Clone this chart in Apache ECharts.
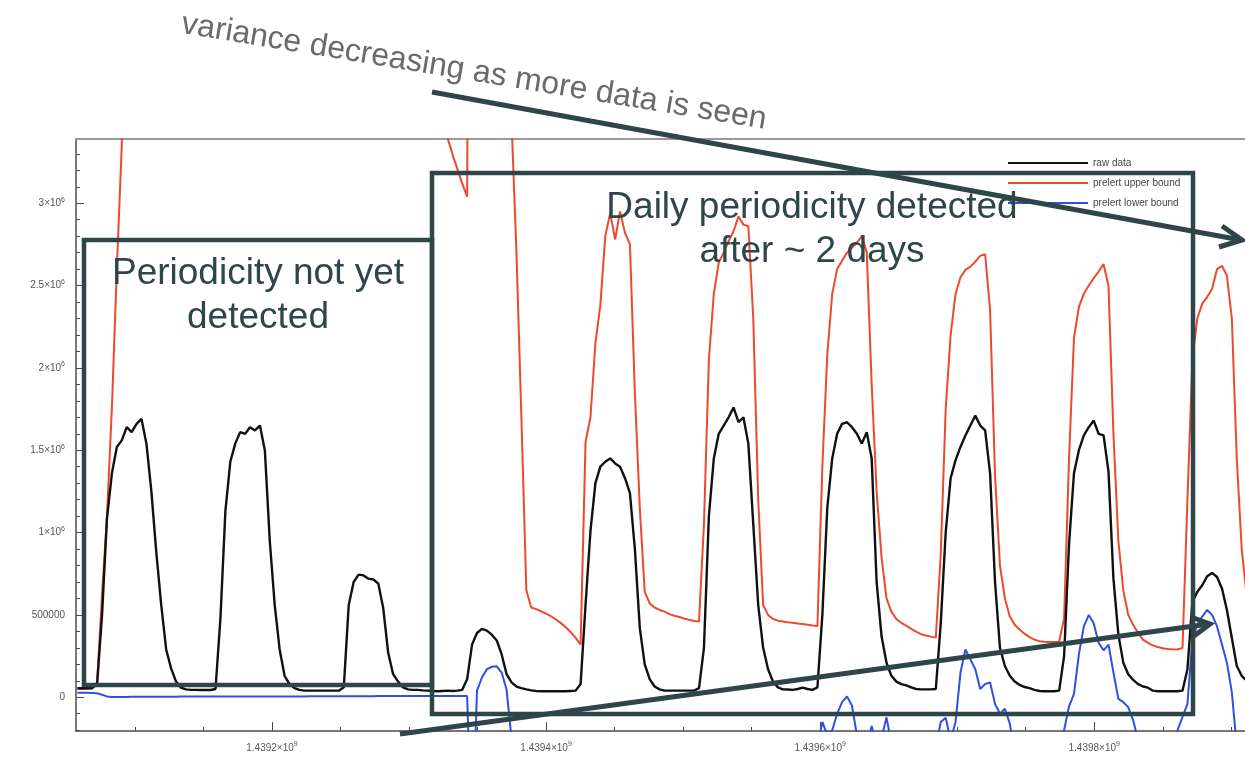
<!DOCTYPE html>
<html>
<head>
<meta charset="utf-8">
<script src="https://cdn.jsdelivr.net/npm/echarts@6/dist/echarts.min.js"></script>
<style>
  html, body { margin: 0; padding: 0; background: #ffffff; }
  #chart { width: 1245px; height: 762px; }
</style>
</head>
<body>
<div id="chart"></div>
<script>
// Hourly samples (unix seconds) starting at T_START
const T_START = 1439058000;
const T_STEP = 3600;

// Raw traffic, in thousands
const rawK = [
  55,55,55,55,80,500,1085,1360,1520,1560,1640,1610,1660,1690,1540,1250,880,560,290,175,95,58,48,45,
  45,44,44,44,50,480,1130,1430,1540,1610,1600,1640,1620,1650,1500,950,560,290,130,80,56,45,40,40,
  40,40,40,40,40,40,60,560,700,745,740,720,715,690,540,270,140,95,60,48,45,45,42,40,
  38,36,38,40,38,40,45,110,320,390,415,405,380,345,260,140,90,65,55,48,42,38,36,36,
  36,36,36,36,38,40,80,560,1010,1300,1400,1430,1450,1420,1400,1330,1240,900,420,200,110,65,48,40,
  40,40,40,40,40,40,55,300,1100,1450,1600,1650,1700,1760,1670,1700,1540,1050,560,300,170,95,60,48,
  47,45,50,58,50,45,60,500,1150,1450,1600,1660,1670,1640,1600,1540,1610,1450,700,370,210,130,95,80,
  72,60,50,48,48,48,50,450,1000,1330,1440,1520,1590,1650,1710,1650,1620,1360,700,300,190,130,95,75,
  62,55,45,38,36,36,36,40,250,930,1360,1500,1590,1640,1680,1600,1590,1370,720,380,210,140,105,80,
  65,58,40,36,36,36,36,36,40,170,580,640,680,735,755,730,660,530,360,190,130,100
];

// Model upper bound, in thousands (early values run far above the plotted range)
const upperK = [
  50,50,52,55,90,620,1100,1760,2600,3350,
  8200,8600,8900,9100,9200,9100,8900,8600,8300,8000,
  7800,7600,7500,7400,7300,7200,7200,7100,7100,7000,
  7000,6900,6900,6800,6800,6700,6700,6600,6600,6500,
  6500,6400,6400,6300,6300,6200,6200,6100,6100,6000,
  6000,5900,5900,5800,5800,5700,5700,5600,5600,5500,
  5500,5400,5400,5300,5300,5200,5200,5100,5100,5000,
  5000,4900,4900,4800,4800,
  3400,3300,3210,3120,3040,
  9000,9000,8800,8600,8400,8200,8000,7800,
  3500,2700,1700,650,
  545,535,522,508,492,472,450,425,395,360,320,
  1550,1700,2150,2380,2800,2940,2780,2950,2820,2750,1850,1150,640,570,545,530,520,
  505,495,487,478,470,463,460,1050,2050,2450,2640,2700,2770,2830,2920,2870,2860,
  2300,1200,560,500,475,465,460,455,452,448,445,440,435,432,
  1400,2080,2450,2600,2650,2700,2730,2760,2800,2700,
  1900,1250,850,600,520,475,452,435,415,398,
  383,375,368,362,870,1750,2200,2450,2550,2595,
  2615,2645,2680,2690,2350,1350,800,600,490,440,
  410,385,365,350,340,337,336,336,337,480,
  1450,2180,2370,2450,2500,2545,2585,2630,2500,1600,
  950,650,500,440,390,350,330,315,305,298,
  293,291,290,300,1200,2050,2300,2390,2430,2480,
  2600,2620,2560,2300,1450,900,620
];

// Model lower bound, in thousands (negative stretches fall below the plotted range)
const lowerK = [
  28,28,27,26,24,15,5,
  2,2,2,2,3,3,3,3,3,3,
  3,3,3,3,4,4,4,4,4,4,
  4,4,4,4,4,4,5,5,5,5,
  5,5,5,5,5,5,5,5,5,5,
  6,6,6,6,6,6,6,6,6,6,
  6,6,6,6,7,7,7,7,7,7,
  7,7,7,7,8,8,8,8,8,8,
  8,8,8,
  -900,
  40,120,170,185,188,150,45,
  -250,
  -800,-900,-950,-1000,-1000,-980,-950,-900,-850,-800,
  -700,-650,-700,-800,-900,-1000,-1050,-1100,-1100,-1050,
  -1000,-950,-900,-850,-800,-750,-700,-650,-600,-650,
  -700,-800,-900,-950,-1000,-1000,-950,-900,-850,-800,
  -750,-700,-650,-600,-550,-550,-600,-650,-700,-750,
  -800,-800,-750,-700,-650,-600,-550,-500,-450,-400,
  -350,
  -300,-150,-230,-200,-100,-30,5,-50,-230,-280,
  -300,-175,-300,-250,-122,-280,-420,-500,-550,-520,
  -480,-460,-450,-450,-300,-150,-125,-260,-150,150,
  290,230,170,50,80,90,-40,-100,-70,-160,
  -350,
  -500,-600,-650,-700,-700,-650,-600,-500,-350,
  -200,-55,20,260,430,500,450,330,285,320,150,-10,-30,-60,-140,-260,
  -400,-500,-550,-550,-500,-450,-300,-200,-120,-40,350,440,490,530,500,430,320,210,30,-300,-600,-700
];

const seriesNames = ['raw data', 'prelert upper bound', 'prelert lower bound'];

// Axis extents and tick positions
const X_MIN = 1439057000, X_MAX = 1439910000;
const Y_MIN = -205000, Y_MAX = 3390000;
const xLabelTicks = [1439200000, 1439400000, 1439600000, 1439800000];
const yLabelTicks = [0, 500000, 1000000, 1500000, 2000000, 2500000, 3000000];
const xMinorStep = 50000, yMinorStep = 100000;

function stepsBetween(lo, hi, step) {
  const out = [];
  for (let v = Math.ceil(lo / step) * step; v <= hi; v += step) out.push(v);
  return out;
}
const xMinorTicks = stepsBetween(X_MIN, X_MAX, xMinorStep);
const yMinorTicks = stepsBetween(Y_MIN, Y_MAX, yMinorStep);

function toPairs(arrK) {
  return arrK.map((v, i) => [T_START + i * T_STEP, v * 1000]);
}

const ink = '#2f4649';
const axisInk = '#4a4a4a';
const labelInk = '#555555';
const sans = '"Liberation Sans", Arial, sans-serif';
const annotFont = '37px ' + sans;

const supRich = {
  m: { fontSize: 10, color: labelInk, fontFamily: sans },
  e: { fontSize: 7, color: labelInk, fontFamily: sans, padding: [0, 0, 7, 0] }
};

function yFmt(v) {
  if (v === 0) return '{m|0}';
  if (v === 500000) return '{m|500000}';
  const mant = +(v / 1e6).toFixed(1);
  return '{m|' + mant + '×10}{e|6}';
}
function xFmt(v) {
  return '{m|' + (v / 1e9).toFixed(4) + '×10}{e|9}';
}

const chart = echarts.init(document.getElementById('chart'), null, { renderer: 'canvas' });

const baseX = { type: 'value', min: X_MIN, max: X_MAX, splitLine: { show: false } };
const baseY = { type: 'value', min: Y_MIN, max: Y_MAX, splitLine: { show: false } };

chart.setOption({
  animation: false,
  backgroundColor: '#ffffff',
  grid: { left: 76, top: 139, right: 0, bottom: 31, containLabel: false },
  legend: {
    data: seriesNames,
    orient: 'vertical',
    left: 1003,
    top: 152,
    padding: 5,
    icon: 'rect',
    itemWidth: 80,
    itemHeight: 2,
    itemGap: 8,
    itemStyle: { borderWidth: 0 },
    textStyle: { fontSize: 10, color: '#444', lineHeight: 12, fontFamily: sans }
  },
  xAxis: [
    Object.assign({}, baseX, {
      position: 'bottom',
      axisLine: { show: true, onZero: false, lineStyle: { color: axisInk, width: 1.5 } },
      axisTick: { show: true, inside: true, length: 9, customValues: xLabelTicks, lineStyle: { color: axisInk } },
      axisLabel: { show: true, customValues: xLabelTicks, margin: 10, formatter: xFmt, rich: supRich }
    }),
    Object.assign({}, baseX, {
      position: 'bottom',
      axisLine: { show: false, onZero: false },
      axisTick: { show: true, inside: true, length: 4, customValues: xMinorTicks, lineStyle: { color: axisInk } },
      axisLabel: { show: false }
    }),
    Object.assign({}, baseX, {
      position: 'top',
      axisLine: { show: true, onZero: false, lineStyle: { color: '#9a9a9a', width: 2 } },
      axisTick: { show: false },
      axisLabel: { show: false }
    })
  ],
  yAxis: [
    Object.assign({}, baseY, {
      position: 'left',
      axisLine: { show: true, onZero: false, lineStyle: { color: axisInk, width: 1.5 } },
      axisTick: { show: true, inside: true, length: 8, customValues: yLabelTicks, lineStyle: { color: axisInk } },
      axisLabel: { show: true, customValues: yLabelTicks, margin: 11, formatter: yFmt, rich: supRich }
    }),
    Object.assign({}, baseY, {
      position: 'left',
      axisLine: { show: false, onZero: false },
      axisTick: { show: true, inside: true, length: 4, customValues: yMinorTicks, lineStyle: { color: axisInk } },
      axisLabel: { show: false }
    })
  ],
  series: [
    {
      name: seriesNames[1], type: 'line', xAxisIndex: 0, yAxisIndex: 0,
      data: toPairs(upperK), showSymbol: false, clip: true, z: 2,
      color: '#ec4a2c', lineStyle: { color: '#ec4a2c', width: 2 }
    },
    {
      name: seriesNames[2], type: 'line', xAxisIndex: 0, yAxisIndex: 0,
      data: toPairs(lowerK), showSymbol: false, clip: true, z: 3,
      color: '#2f4fe6', lineStyle: { color: '#2f4fe6', width: 2 }
    },
    {
      name: seriesNames[0], type: 'line', xAxisIndex: 0, yAxisIndex: 0,
      data: toPairs(rawK), showSymbol: false, clip: true, z: 4,
      color: '#111111', lineStyle: { color: '#111111', width: 2.4 }
    }
  ],
  graphic: {
    elements: [
      // annotation frames
      { type: 'rect', z: 100, shape: { x: 84, y: 240, width: 348, height: 445 },
        style: { fill: 'none', stroke: ink, lineWidth: 4.5 } },
      { type: 'rect', z: 100, shape: { x: 432, y: 173, width: 761, height: 541 },
        style: { fill: 'none', stroke: ink, lineWidth: 4.5 } },
      // arrow toward the narrowing band
      { type: 'line', z: 101, shape: { x1: 432, y1: 92, x2: 1241, y2: 240 },
        style: { stroke: ink, lineWidth: 5 } },
      { type: 'polyline', z: 101, shape: { points: [[1222, 226], [1242, 240], [1219, 247]] },
        style: { fill: 'none', stroke: ink, lineWidth: 5, lineJoin: 'miter' } },
      // arrow toward the rising lower bound
      { type: 'line', z: 101, shape: { x1: 400, y1: 734, x2: 1209, y2: 624 },
        style: { stroke: ink, lineWidth: 5 } },
      { type: 'polyline', z: 101, shape: { points: [[1191, 617], [1210, 624], [1194, 636]] },
        style: { fill: 'none', stroke: ink, lineWidth: 5, lineJoin: 'miter' } },
      // captions
      { type: 'text', z: 102, x: 258, y: 274,
        style: { text: 'Periodicity not yet', font: annotFont, fill: ink, align: 'center', verticalAlign: 'middle' } },
      { type: 'text', z: 102, x: 258, y: 318,
        style: { text: 'detected', font: annotFont, fill: ink, align: 'center', verticalAlign: 'middle' } },
      { type: 'text', z: 102, x: 812, y: 208,
        style: { text: 'Daily periodicity detected', font: annotFont, fill: ink, align: 'center', verticalAlign: 'middle' } },
      { type: 'text', z: 102, x: 812, y: 252,
        style: { text: 'after ~ 2 days', font: annotFont, fill: ink, align: 'center', verticalAlign: 'middle' } },
      { type: 'text', z: 102, x: 474, y: 72, rotation: -0.163,
        style: { text: 'variance decreasing as more data is seen', font: '32px ' + sans,
                 fill: '#6a6a6a', align: 'center', verticalAlign: 'middle' } }
    ]
  }
});
</script>
</body>
</html>
